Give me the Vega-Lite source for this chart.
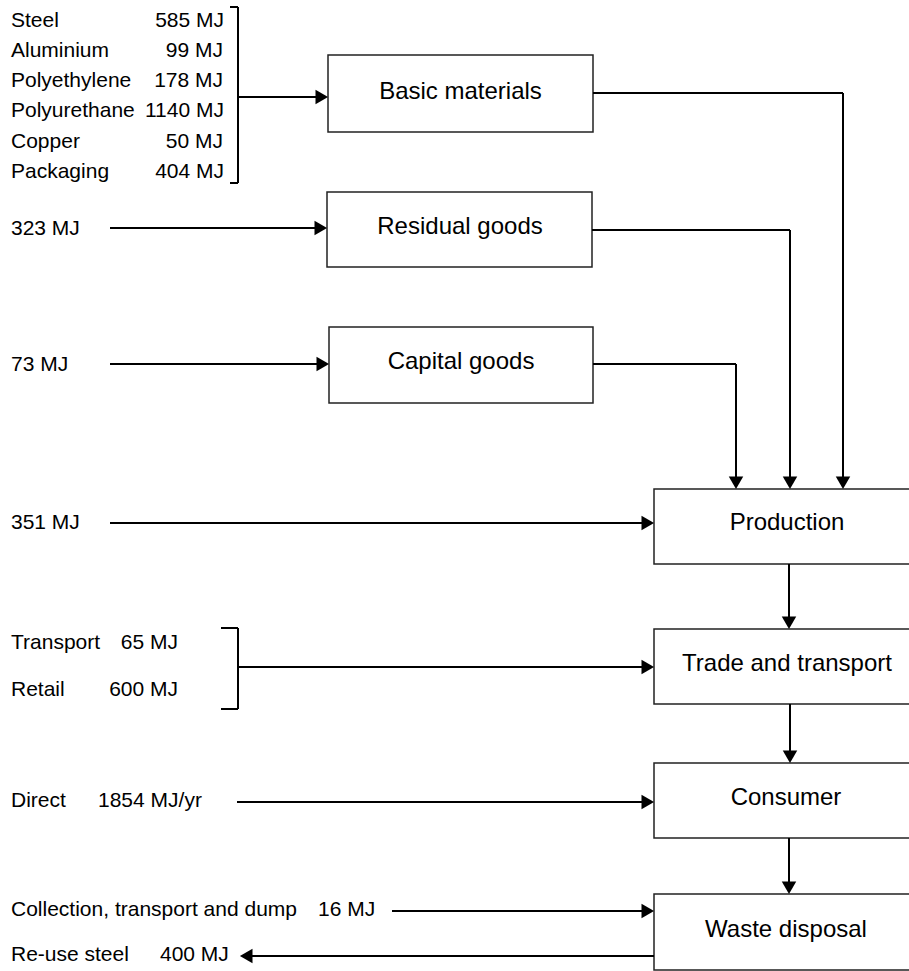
{
  "$schema": "https://vega.github.io/schema/vega-lite/v6.json",
  "width": 909,
  "height": 971,
  "autosize": {"type": "fit", "contains": "padding"},
  "padding": 0,
  "background": "white",
  "config": {"view": {"stroke": null}},
  "datasets": {
    "boxes": [
      {"name": "Basic materials", "x": 328, "x2": 593, "y": 55, "y2": 132},
      {"name": "Residual goods", "x": 327, "x2": 592, "y": 192, "y2": 267},
      {"name": "Capital goods", "x": 329, "x2": 593, "y": 327, "y2": 403},
      {"name": "Production", "x": 654, "x2": 920, "y": 489, "y2": 564},
      {"name": "Trade and transport", "x": 654, "x2": 920, "y": 629, "y2": 704},
      {"name": "Consumer", "x": 654, "x2": 920, "y": 763, "y2": 838},
      {"name": "Waste disposal", "x": 654, "x2": 920, "y": 894, "y2": 970}
    ],
    "boxlabels": [
      {"text": "Basic materials", "x": 460.5, "y": 92},
      {"text": "Residual goods", "x": 460, "y": 227},
      {"text": "Capital goods", "x": 461, "y": 362},
      {"text": "Production", "x": 787, "y": 523},
      {"text": "Trade and transport", "x": 787, "y": 664},
      {"text": "Consumer", "x": 786, "y": 798},
      {"text": "Waste disposal", "x": 786, "y": 930}
    ],
    "segments": [
      {"x": 238, "x2": 238, "y": 7, "y2": 183},
      {"x": 230, "x2": 238, "y": 7, "y2": 7},
      {"x": 230, "x2": 238, "y": 183, "y2": 183},
      {"x": 238, "x2": 322, "y": 97, "y2": 97},
      {"x": 593, "x2": 843, "y": 93, "y2": 93},
      {"x": 843, "x2": 843, "y": 93, "y2": 482},
      {"x": 110, "x2": 321, "y": 228, "y2": 228},
      {"x": 592, "x2": 790, "y": 230, "y2": 230},
      {"x": 790, "x2": 790, "y": 230, "y2": 482},
      {"x": 110, "x2": 323, "y": 364, "y2": 364},
      {"x": 593, "x2": 736, "y": 364, "y2": 364},
      {"x": 736, "x2": 736, "y": 364, "y2": 482},
      {"x": 110, "x2": 648, "y": 523, "y2": 523},
      {"x": 789, "x2": 789, "y": 564, "y2": 623},
      {"x": 238, "x2": 238, "y": 628, "y2": 709},
      {"x": 221, "x2": 238, "y": 628, "y2": 628},
      {"x": 221, "x2": 238, "y": 709, "y2": 709},
      {"x": 238, "x2": 648, "y": 667, "y2": 667},
      {"x": 790, "x2": 790, "y": 704, "y2": 757},
      {"x": 237, "x2": 648, "y": 802, "y2": 802},
      {"x": 789, "x2": 789, "y": 838, "y2": 888},
      {"x": 392, "x2": 648, "y": 911, "y2": 911},
      {"x": 246, "x2": 654, "y": 956, "y2": 956}
    ],
    "heads": [
      {"dir": "right", "x": 328, "y": 97},
      {"dir": "down", "x": 843, "y": 489},
      {"dir": "right", "x": 327, "y": 228},
      {"dir": "down", "x": 790, "y": 489},
      {"dir": "right", "x": 329, "y": 364},
      {"dir": "down", "x": 736, "y": 489},
      {"dir": "right", "x": 654, "y": 523},
      {"dir": "down", "x": 789, "y": 629},
      {"dir": "right", "x": 654, "y": 667},
      {"dir": "down", "x": 790, "y": 763},
      {"dir": "right", "x": 654, "y": 802},
      {"dir": "down", "x": 789, "y": 894},
      {"dir": "right", "x": 654, "y": 911},
      {"dir": "left", "x": 240, "y": 956}
    ],
    "leftlabels": [
      {"text": "Steel", "x": 11, "y": 20.5},
      {"text": "Aluminium", "x": 11, "y": 50.5},
      {"text": "Polyethylene", "x": 11, "y": 80.5},
      {"text": "Polyurethane", "x": 11, "y": 110.5},
      {"text": "Copper", "x": 11, "y": 141.5},
      {"text": "Packaging", "x": 11, "y": 171.5},
      {"text": "323 MJ", "x": 11, "y": 229},
      {"text": "73 MJ", "x": 11, "y": 365},
      {"text": "351 MJ", "x": 11, "y": 523},
      {"text": "Transport", "x": 11, "y": 643},
      {"text": "Retail", "x": 11, "y": 690},
      {"text": "Direct", "x": 11, "y": 801},
      {"text": "1854 MJ/yr", "x": 98, "y": 801},
      {"text": "Collection, transport and dump", "x": 11, "y": 910},
      {"text": "16 MJ", "x": 318, "y": 910},
      {"text": "Re-use steel", "x": 11, "y": 955},
      {"text": "400 MJ", "x": 160, "y": 955}
    ],
    "rightlabels": [
      {"text": "585 MJ", "x": 224, "y": 20.5},
      {"text": "99 MJ", "x": 223, "y": 50.5},
      {"text": "178 MJ", "x": 223, "y": 80.5},
      {"text": "1140 MJ", "x": 224, "y": 110.5},
      {"text": "50 MJ", "x": 223, "y": 141.5},
      {"text": "404 MJ", "x": 224, "y": 171.5},
      {"text": "65 MJ", "x": 178, "y": 643},
      {"text": "600 MJ", "x": 178, "y": 690}
    ]
  },
  "encoding": {
    "x": {"field": "x", "type": "quantitative", "axis": null, "scale": {"domain": [0, 909], "nice": false, "zero": false}},
    "y": {"field": "y", "type": "quantitative", "axis": null, "scale": {"domain": [0, 971], "nice": false, "zero": false, "reverse": true}}
  },
  "layer": [
    {
      "data": {"name": "boxes"},
      "mark": {"type": "rect", "fill": "white", "stroke": "#222222", "strokeWidth": 1.5, "clip": true},
      "encoding": {
        "x2": {"field": "x2"},
        "y2": {"field": "y2"}
      }
    },
    {
      "data": {"name": "segments"},
      "mark": {"type": "rule", "color": "black", "strokeWidth": 2},
      "encoding": {
        "x2": {"field": "x2"},
        "y2": {"field": "y2"}
      }
    },
    {
      "data": {"name": "heads"},
      "transform": [{"filter": "datum.dir === 'right'"}],
      "mark": {"type": "point", "shape": "triangle-right", "filled": true, "color": "black", "opacity": 1, "size": 210, "xOffset": -6.2}
    },
    {
      "data": {"name": "heads"},
      "transform": [{"filter": "datum.dir === 'down'"}],
      "mark": {"type": "point", "shape": "triangle-down", "filled": true, "color": "black", "opacity": 1, "size": 210, "yOffset": -6.2}
    },
    {
      "data": {"name": "heads"},
      "transform": [{"filter": "datum.dir === 'left'"}],
      "mark": {"type": "point", "shape": "triangle-left", "filled": true, "color": "black", "opacity": 1, "size": 210, "xOffset": 6.2}
    },
    {
      "data": {"name": "boxlabels"},
      "mark": {"type": "text", "font": "Liberation Sans", "fontSize": 24, "align": "center", "baseline": "middle", "color": "black"},
      "encoding": {"text": {"field": "text"}}
    },
    {
      "data": {"name": "leftlabels"},
      "mark": {"type": "text", "font": "Liberation Sans", "fontSize": 21, "align": "left", "baseline": "middle", "color": "black"},
      "encoding": {"text": {"field": "text"}}
    },
    {
      "data": {"name": "rightlabels"},
      "mark": {"type": "text", "font": "Liberation Sans", "fontSize": 21, "align": "right", "baseline": "middle", "color": "black"},
      "encoding": {"text": {"field": "text"}}
    }
  ]
}
